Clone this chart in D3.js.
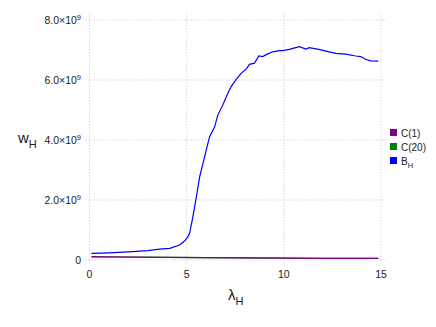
<!DOCTYPE html>
<html>
<head>
<meta charset="utf-8">
<script src="https://cdn.jsdelivr.net/npm/d3@7"></script>
<style>
  body { margin: 0; background: #fff; }
  svg text { font-family: "Liberation Sans", Arial, sans-serif; fill: #222; }
</style>
</head>
<body>
<svg id="chart" width="436" height="327"></svg>
<script>
// values, w_H in units of 1e9
var lambdaB = [0.1, 1, 2, 3, 3.6, 4.13, 4.64, 4.9, 5.07, 5.15, 5.32, 5.5, 5.67, 5.84, 6.01, 6.18, 6.44, 6.6, 6.86, 7.12, 7.29, 7.55, 7.8, 8.06, 8.23, 8.49, 8.71, 8.91, 9.17, 9.43, 9.77, 9.94, 10.28, 10.8, 11.14, 11.3, 11.8, 12.33, 12.68, 13.19, 13.7, 13.96, 14.2, 14.47, 14.86];
var valuesB = [0.22, 0.24, 0.27, 0.31, 0.36, 0.39, 0.5, 0.64, 0.78, 0.89, 1.44, 2.11, 2.78, 3.22, 3.67, 4.11, 4.44, 4.83, 5.17, 5.56, 5.78, 6.02, 6.22, 6.36, 6.52, 6.56, 6.8, 6.78, 6.87, 6.94, 6.98, 6.98, 7.02, 7.11, 7.03, 7.08, 7.02, 6.94, 6.89, 6.86, 6.8, 6.78, 6.69, 6.64, 6.63];
var lambdaC = [0.1, 2, 4, 6, 8, 10, 12, 14.86];
var valuesC1 = [0.11, 0.1, 0.09, 0.08, 0.07, 0.06, 0.056, 0.055];
var valuesC20 = [0.1, 0.095, 0.088, 0.08, 0.07, 0.06, 0.056, 0.055];
var xTicks = [0, 5, 10, 15];
var yTicks = [0, 2, 4, 6, 8];
var legendNames = ["C(1)", "C(20)", "B"];
var legendColors = ["#800080", "#008000", "#0000ff"];

var svg = d3.select("#chart");

var x = d3.scaleLinear().domain([0, 15]).range([89.5, 381]);
var y = d3.scaleLinear().domain([0, 8]).range([260, 20]);

var plotLeft = 85, plotRight = 386, plotTop = 13, plotBottom = 265;

// grid
svg.append("g").selectAll("line").data(xTicks).join("line")
  .attr("x1", d => x(d)).attr("x2", d => x(d))
  .attr("y1", plotTop).attr("y2", plotBottom)
  .attr("stroke", "#d6d6ec").attr("stroke-width", 1).attr("stroke-dasharray", "1.5,1.5");
svg.append("g").selectAll("line").data(yTicks).join("line")
  .attr("x1", plotLeft).attr("x2", plotRight)
  .attr("y1", d => y(d)).attr("y2", d => y(d))
  .attr("stroke", "#d6d6ec").attr("stroke-width", 1).attr("stroke-dasharray", "1.5,1.5");

// tick labels
svg.append("g").selectAll("text").data(xTicks).join("text")
  .attr("x", d => x(d)).attr("y", 278)
  .attr("text-anchor", "middle").attr("font-size", 10.5)
  .text(d => d);

var yl = svg.append("g").selectAll("text").data(yTicks).join("text")
  .attr("x", 81).attr("y", d => y(d) + 4)
  .attr("text-anchor", "end").attr("font-size", 10.5);
yl.each(function(d) {
  var t = d3.select(this);
  if (d === 0) { t.text("0"); return; }
  t.append("tspan").text(d.toFixed(1) + "\u00d710");
  t.append("tspan").attr("dy", -4).attr("font-size", 7.5).text("9");
});

// lines
var line = d3.line().x(d => x(d[0])).y(d => y(d[1]));
svg.append("path").datum(d3.zip(lambdaC, valuesC20))
  .attr("d", line).attr("fill", "none").attr("stroke", legendColors[1]).attr("stroke-width", 1.2);
svg.append("path").datum(d3.zip(lambdaC, valuesC1))
  .attr("d", line).attr("fill", "none").attr("stroke", legendColors[0]).attr("stroke-width", 1.2);
svg.append("path").datum(d3.zip(lambdaB, valuesB))
  .attr("d", line).attr("fill", "none").attr("stroke", legendColors[2]).attr("stroke-width", 1.2);

// axis titles
var yt = svg.append("text").attr("x", 18).attr("y", 143).attr("font-size", 15);
yt.append("tspan").text("w");
yt.append("tspan").attr("dy", 5).attr("font-size", 11).text("H");

var xt = svg.append("text").attr("x", 228).attr("y", 300).attr("font-size", 15);
xt.append("tspan").text("\u03bb");
xt.append("tspan").attr("dy", 5).attr("font-size", 11).text("H");

// legend
var lg = svg.append("g").selectAll("g").data(legendNames).join("g")
  .attr("transform", (d, i) => "translate(390," + (129 + i * 14) + ")");
lg.append("rect").attr("width", 7).attr("height", 7)
  .attr("fill", (d, i) => legendColors[i]);
lg.each(function(d, i) {
  var t = d3.select(this).append("text").attr("x", 11).attr("y", 7.5).attr("font-size", 10);
  t.append("tspan").text(d);
  if (i === 2) t.append("tspan").attr("dy", 3).attr("font-size", 7.5).text("H");
});
</script>
</body>
</html>
